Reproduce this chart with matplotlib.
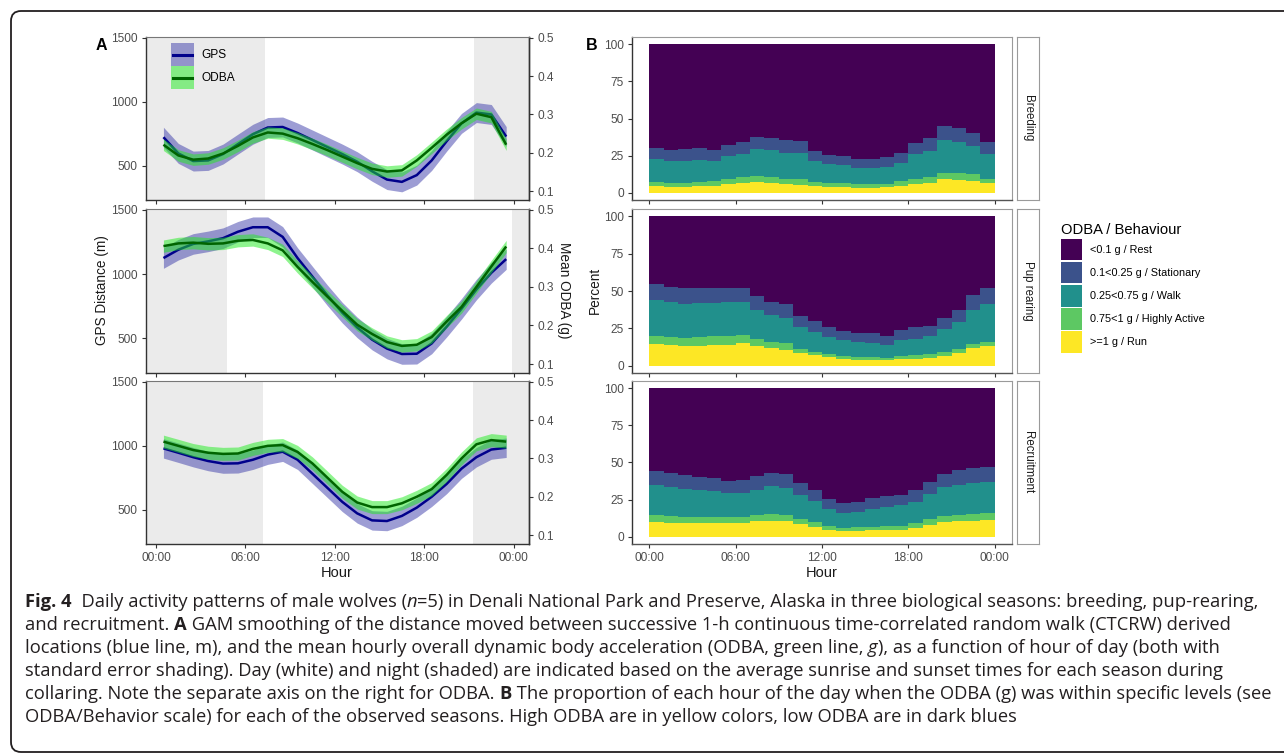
import matplotlib
matplotlib.use("Agg")
import matplotlib.pyplot as plt
import numpy as np
from matplotlib.patches import Patch, Rectangle, PathPatch
from matplotlib.lines import Line2D
from matplotlib.legend_handler import HandlerBase
from matplotlib.path import Path

# ---------------- data ----------------
seasons = ["Breeding", "Pup rearing", "Recruitment"]
hours_smooth = [h + 0.5 for h in range(24)]          # GAM fit evaluation hours
hour_ticks = [0, 6, 12, 18, 24]
hour_labels = ["00:00", "06:00", "12:00", "18:00", "00:00"]

# GPS distance (m)
gps_breeding = [722, 595, 535, 540, 590, 668, 745, 798, 802, 755, 700, 645, 590, 530, 455, 390, 372, 425, 540, 690, 830, 915, 900, 727]
gps_pup = [1125, 1190, 1235, 1255, 1280, 1330, 1365, 1365, 1290, 1125, 980, 835, 700, 585, 490, 420, 378, 380, 460, 590, 730, 880, 1010, 1117]
gps_recruit = [979, 945, 910, 880, 860, 862, 890, 930, 953, 890, 780, 670, 560, 470, 415, 410, 450, 515, 600, 700, 820, 910, 970, 984]
# mean ODBA (g)
odba_breeding = [0.221, 0.193, 0.182, 0.185, 0.198, 0.218, 0.240, 0.253, 0.250, 0.238, 0.223, 0.207, 0.190, 0.173, 0.158, 0.151, 0.154, 0.180, 0.213, 0.247, 0.277, 0.302, 0.293, 0.221]
odba_pup = [0.406, 0.413, 0.415, 0.412, 0.413, 0.420, 0.422, 0.413, 0.395, 0.352, 0.313, 0.275, 0.238, 0.202, 0.178, 0.157, 0.147, 0.150, 0.170, 0.210, 0.248, 0.300, 0.353, 0.405]
odba_recruit = [0.344, 0.333, 0.322, 0.315, 0.312, 0.313, 0.325, 0.333, 0.335, 0.317, 0.287, 0.250, 0.213, 0.185, 0.173, 0.173, 0.183, 0.200, 0.220, 0.257, 0.300, 0.337, 0.348, 0.344]
gps_se = [78, 80, 76]            # standard error half-widths (m)
odba_se = [0.015, 0.016, 0.017]  # standard error half-widths (g)
night_end = [7.3, 4.75, 7.15]     # sunrise (h)
night_start = [21.35, 23.9, 21.3]  # sunset (h)

# Panel B: cumulative percent (stack tops) per hour 0..23
behav_labels = ["<0.1 g / Rest", "0.1<0.25 g / Stationary", "0.25<0.75 g / Walk",
                "0.75<1 g / Highly Active", ">=1 g / Run"]
behav_colors = ["#440154", "#3B528B", "#21908C", "#5DC863", "#FDE725"]
hours_block = list(range(25))

cum_run = {
    "Breeding": [4.5, 4.1, 3.8, 4.3, 4.7, 5.6, 6.3, 7.2, 6.3, 5.6, 5.4, 4.5, 4.1, 3.8, 3.4, 3.4, 3.6, 4.5, 5.9, 6.8, 9.0, 8.6, 8.1, 6.3],
    "Pup rearing": [14.2, 13.5, 12.8, 13.0, 13.7, 13.9, 15.1, 12.8, 11.7, 10.6, 8.3, 7.0, 5.4, 4.5, 3.8, 3.6, 3.4, 4.5, 4.7, 5.2, 6.5, 8.3, 11.5, 13.3],
    "Recruitment": [9.9, 9.5, 9.0, 9.3, 9.3, 9.3, 9.3, 10.4, 10.8, 10.6, 8.6, 6.8, 4.7, 4.1, 4.1, 4.3, 4.5, 4.7, 5.9, 7.7, 9.9, 10.4, 10.8, 11.1],
}
cum_active = {
    "Breeding": [7.4, 6.8, 6.5, 7.2, 7.7, 9.0, 10.2, 11.3, 10.4, 9.3, 9.0, 7.4, 6.8, 6.8, 6.1, 5.9, 6.1, 7.7, 9.3, 10.6, 13.5, 12.9, 12.4, 9.5],
    "Pup rearing": [20.0, 19.3, 18.7, 19.1, 19.8, 20.0, 20.7, 17.5, 16.0, 14.8, 11.0, 9.4, 7.6, 6.5, 5.8, 5.6, 5.2, 6.7, 7.0, 7.8, 9.0, 11.2, 14.2, 15.5],
    "Recruitment": [14.4, 14.0, 13.1, 13.5, 13.5, 13.3, 13.3, 14.4, 15.1, 14.9, 12.2, 9.9, 7.2, 6.1, 6.3, 6.8, 7.2, 7.4, 9.0, 11.7, 14.0, 14.7, 15.3, 15.8],
}
cum_walk = {
    "Breeding": [22.8, 21.4, 21.4, 22.3, 21.4, 24.6, 26.2, 29.6, 28.7, 26.9, 26.4, 21.0, 19.0, 18.3, 16.7, 16.7, 17.0, 20.3, 26.0, 28.2, 35.2, 34.1, 31.2, 26.2],
    "Pup rearing": [43.8, 42.5, 41.6, 41.8, 42.2, 42.5, 42.9, 37.5, 33.9, 31.7, 25.8, 22.2, 18.9, 16.9, 15.5, 15.3, 13.5, 16.9, 17.8, 19.5, 24.3, 29.2, 37.5, 41.6],
    "Recruitment": [34.5, 33.6, 32.3, 31.6, 30.9, 29.3, 29.6, 31.6, 33.9, 33.0, 28.2, 23.7, 18.5, 16.0, 16.7, 18.7, 20.1, 21.0, 23.5, 28.7, 33.6, 35.0, 36.3, 37.0],
}
cum_stationary = {
    "Breeding": [30.0, 28.7, 29.3, 30.0, 28.7, 32.3, 34.3, 37.7, 36.8, 35.4, 35.0, 28.2, 25.7, 24.4, 22.8, 22.8, 24.2, 27.0, 33.6, 36.6, 45.0, 43.8, 40.0, 34.3],
    "Pup rearing": [54.6, 52.8, 52.1, 51.9, 51.9, 51.9, 51.9, 46.7, 42.7, 41.1, 33.5, 29.9, 25.6, 23.4, 21.8, 21.6, 19.8, 24.0, 25.6, 26.3, 32.1, 37.5, 47.0, 51.7],
    "Recruitment": [44.5, 43.1, 41.5, 40.2, 39.5, 37.5, 37.9, 40.6, 43.1, 42.2, 35.9, 31.6, 25.5, 22.8, 23.5, 26.0, 27.1, 27.8, 31.6, 36.8, 42.2, 44.9, 46.3, 47.2],
}
cum_rest = {s: [100.0] * 24 for s in seasons}

gps_series = [gps_breeding, gps_pup, gps_recruit]
odba_series = [odba_breeding, odba_pup, odba_recruit]
ODBA_SCALE = 3000.0   # secondary axis: metres = ODBA * 3000

# ---------------- figure ----------------
W, H = 1284, 755
plt.rcParams["font.family"] = ["Liberation Sans", "DejaVu Sans"]
fig = plt.figure(figsize=(W / 100, H / 100), dpi=100)


def px_axes(l, t, r, b):
    return fig.add_axes([l / W, 1 - b / H, (r - l) / W, (b - t) / H])


rows = [(37, 200), (209, 373), (381, 544)]
TICKC = "#4d4d4d"
AXC = "#333333"
GREYC = "#9a9a9a"
TFS = 8.6

gps_band_c = (60 / 255, 60 / 255, 170 / 255, 0.5)
odba_band_c = (30 / 255, 235 / 255, 30 / 255, 0.5)
gps_line_c = "#00008B"
odba_line_c = "#006400"

axA = []
for i, (t, b) in enumerate(rows):
    ax = px_axes(146, t, 529, b)
    axA.append(ax)
    ax.set_xlim(-0.67, 25.03)
    ax.set_ylim(230, 1507)
    ax.axvspan(-1, night_end[i], color="#ebebeb", lw=0, zorder=0)
    ax.axvspan(night_start[i], 26, color="#ebebeb", lw=0, zorder=0)
    x = np.array(hours_smooth)
    g = np.array(gps_series[i], dtype=float)
    o = np.array(odba_series[i], dtype=float) * ODBA_SCALE
    ose = odba_se[i] * ODBA_SCALE
    ax.fill_between(x, g - gps_se[i], g + gps_se[i], color=gps_band_c, lw=0, zorder=2)
    ax.plot(x, g, color=gps_line_c, lw=1.8, zorder=3, solid_capstyle="butt", solid_joinstyle="round")
    ax.fill_between(x, o - ose, o + ose, color=odba_band_c, lw=0, zorder=4)
    ax.plot(x, o, color=odba_line_c, lw=1.8, zorder=5, solid_capstyle="butt", solid_joinstyle="round")
    ax.set_yticks([500, 1000, 1500])
    ax.set_xticks(hour_ticks)
    if i == 2:
        ax.set_xticklabels(hour_labels)
    else:
        ax.tick_params(axis="x", length=0, labelbottom=False)
    ax.tick_params(axis="both", labelsize=TFS, labelcolor=TICKC, color=AXC, length=3, width=0.8, pad=3)
    for s in ["left", "bottom", "right"]:
        ax.spines[s].set_color(AXC)
        ax.spines[s].set_linewidth(1.0)
    ax.spines["top"].set_color("#777777")
    ax.spines["top"].set_linewidth(0.8)
    sec = ax.secondary_yaxis("right", functions=(lambda y: y / ODBA_SCALE, lambda y: y * ODBA_SCALE))
    sec.set_yticks([0.1, 0.2, 0.3, 0.4, 0.5])
    sec.set_yticklabels(["0.1", "0.2", "0.3", "0.4", "0.5"])
    sec.tick_params(labelsize=TFS, labelcolor=TICKC, color=AXC, length=3, width=0.8, pad=3)
    sec.spines["right"].set_color(AXC)
    sec.spines["right"].set_linewidth(1.0)


# legend panel A: band patch with line across it
class BandKey:
    def __init__(self, band, line):
        self.band = band
        self.line = line


class BandLineHandler(HandlerBase):
    def create_artists(self, legend, orig_handle, xdescent, ydescent, width, height, fontsize, trans):
        r = Rectangle((-xdescent, -ydescent), width, height, facecolor=orig_handle.band,
                      edgecolor="none", transform=trans)
        ym = -ydescent + height / 2
        ln = Line2D([-xdescent + 0.1 * width, -xdescent + 0.9 * width], [ym, ym],
                    color=orig_handle.line, lw=2.2, transform=trans)
        return [r, ln]


keys = [BandKey(gps_band_c, gps_line_c), BandKey(odba_band_c, odba_line_c)]
axA[0].legend(keys, ["GPS", "ODBA"], handler_map={BandKey: BandLineHandler()},
              loc="upper left", bbox_to_anchor=((171 - 146) / 383, 1 - (43 - 37) / 163),
              frameon=False, fontsize=8.6, handlelength=1.95, handleheight=2.6,
              labelspacing=0.0, handletextpad=0.6, borderpad=0, borderaxespad=0)

# ---------------- panel B ----------------
layers = [cum_rest, cum_stationary, cum_walk, cum_active, cum_run]
for i, (t, b) in enumerate(rows):
    ax = px_axes(632, t, 1012, b)
    s = seasons[i]
    ax.set_xlim(-1.2, 25.2)
    ax.set_ylim(-5, 105)
    for k in range(5):
        top = list(layers[k][s])
        bot = list(layers[k + 1][s]) if k < 4 else [0.0] * 24
        ax.fill_between(hours_block, bot + [bot[-1]], top + [top[-1]], step="post",
                        color=behav_colors[k], lw=0)
    ax.set_yticks([0, 25, 50, 75, 100])
    ax.set_xticks(hour_ticks)
    if i == 2:
        ax.set_xticklabels(hour_labels)
    else:
        ax.tick_params(axis="x", length=0, labelbottom=False)
    ax.tick_params(axis="both", labelsize=TFS, labelcolor=TICKC, color=AXC, length=3, width=0.8, pad=3)
    ax.spines["left"].set_color(AXC)
    ax.spines["left"].set_linewidth(1.0)
    ax.spines["bottom"].set_color("#555555")
    ax.spines["bottom"].set_linewidth(1.0)
    for sp in ["top", "right"]:
        ax.spines[sp].set_color(GREYC)
        ax.spines[sp].set_linewidth(0.8)
    # facet strip
    sax = px_axes(1017, t, 1039, b)
    sax.set_xticks([])
    sax.set_yticks([])
    for sp in sax.spines.values():
        sp.set_color(GREYC)
        sp.set_linewidth(0.8)
    sax.text(0.5, 0.5, s, rotation=270, ha="center", va="center", fontsize=8.3,
             color="#1a1a1a", transform=sax.transAxes)

# legend panel B
handles = [Patch(facecolor=c, edgecolor="none") for c in behav_colors]
leg = fig.legend(handles, behav_labels, title="ODBA / Behaviour", loc="upper left",
                 bbox_to_anchor=(1061 / W, 1 - 223 / H), frameon=False, fontsize=7.8,
                 title_fontsize=10.6, handlelength=1.95, handleheight=2.7,
                 labelspacing=0.14, handletextpad=0.75, borderpad=0, borderaxespad=0)
leg._legend_box.align = "left"

# axis labels and panel letters
fig.text(102 / W, 1 - 290 / H, "GPS Distance (m)", rotation=90, ha="center", va="center", fontsize=9.8, color="#1a1a1a")
fig.text(564 / W, 1 - 290 / H, "Mean ODBA (g)", rotation=270, ha="center", va="center", fontsize=9.8, color="#1a1a1a")
fig.text(595 / W, 1 - 290 / H, "Percent", rotation=90, ha="center", va="center", fontsize=9.8, color="#1a1a1a")
fig.text(337 / W, 1 - 573 / H, "Hour", ha="center", va="center", fontsize=10.5, color="#1a1a1a")
fig.text(822 / W, 1 - 573 / H, "Hour", ha="center", va="center", fontsize=10.5, color="#1a1a1a")
fig.text(101 / W, 1 - 45 / H, "A", ha="center", va="center", fontsize=11.5, fontweight="bold")
fig.text(592 / W, 1 - 46 / H, "B", ha="center", va="center", fontsize=11.5, fontweight="bold")

# rounded border (open to the right)
r = 10
L, T, Bt = 11, H - 11, 3
verts = [(W + 5, T), (L + r, T), (L, T), (L, T - r), (L, Bt + r), (L, Bt), (L + r, Bt), (W + 5, Bt)]
codes = [Path.MOVETO, Path.LINETO, Path.CURVE3, Path.CURVE3, Path.LINETO, Path.CURVE3, Path.CURVE3, Path.LINETO]
fig.add_artist(PathPatch(Path(verts, codes), transform=None, fill=False, edgecolor="#231f20", lw=1.3))

# caption
cap_font = ["Open Sans", "DejaVu Sans"]
N, Bd, It = "normal", "bold", "italic"
caption = [
    [("Fig. 4", Bd), ("  Daily activity patterns of male wolves (", N), ("n", It),
     ("=5) in Denali National Park and Preserve, Alaska in three biological seasons: breeding, pup-rearing,", N)],
    [("and recruitment. ", N), ("A", Bd),
     (" GAM smoothing of the distance moved between successive 1-h continuous time-correlated random walk (CTCRW) derived", N)],
    [("locations (blue line, m), and the mean hourly overall dynamic body acceleration (ODBA, green line, ", N),
     ("g", It), ("), as a function of hour of day (both with", N)],
    [("standard error shading). Day (white) and night (shaded) are indicated based on the average sunrise and sunset times for each season during", N)],
    [("collaring. Note the separate axis on the right for ODBA. ", N), ("B", Bd),
     (" The proportion of each hour of the day when the ODBA (g) was within specific levels (see", N)],
    [("ODBA/Behavior scale) for each of the observed seasons. High ODBA are in yellow colors, low ODBA are in dark blues", N)],
]
renderer = fig.canvas.get_renderer()


def draw_line(segs, x0, ybase, size, measure_only=False):
    x = x0
    arts = []
    for txt, sty in segs:
        kw = dict(fontsize=size, family=cap_font, color="#231f20", va="baseline", ha="left")
        if sty == Bd:
            kw["fontweight"] = "bold"
        if sty == It:
            kw["fontstyle"] = "italic"
        a = fig.text(x / W, 1 - ybase / H, txt, **kw)
        w = a.get_window_extent(renderer).width
        arts.append(a)
        x += w
    if measure_only:
        for a in arts:
            a.remove()
    return x - x0


x0 = 25
target = 1256 - x0
w10 = draw_line(caption[0], x0, 600, 10, measure_only=True)
cap_size = 10 * target / w10
y0, dy = 607, 23
for j, segs in enumerate(caption):
    draw_line(segs, x0, y0 + j * dy, cap_size)

fig.savefig("out.png", dpi=100)
